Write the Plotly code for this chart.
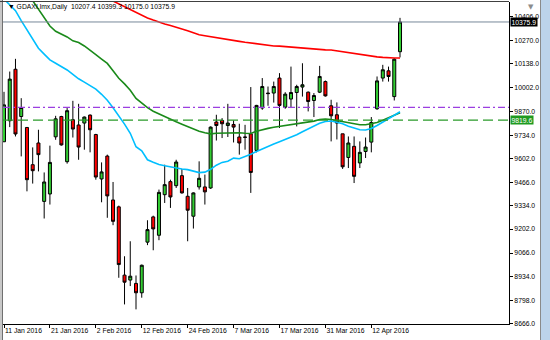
import plotly.graph_objects as go

# ---------------- data ----------------
symbol = "GDAXI.lmx,Daily"
bars = list(range(70))  # trading days 11 Jan 2016 .. 19 Apr 2016

opens = [9697, 9816, 10108, 9840, 9778, 9567, 9690, 9359, 9401, 9725,
         9840, 9584, 9822, 9792, 9803, 9848, 9738, 9486, 9616, 9367,
         9328, 8941, 8913, 8894, 8841, 9128, 9271, 9167, 9397, 9471,
         9448, 9505, 9388, 9275, 9441, 9441, 9435, 9809, 9818, 9789,
         9795, 9724, 9724, 9742, 9648, 9888, 9973, 9973, 10058, 9893,
         9939, 9976, 10007, 9978, 9931, 9978, 10038, 9901, 9850, 9742,
         9608, 9671, 9577, 9642, 9695, 9884, 10058, 10099, 9953, 10207.4]
highs = [9980, 10095, 10167, 9944, 9780, 9665, 9765, 9523, 9675, 9844,
         9844, 9888, 9929, 9912, 9840, 9852, 9742, 9580, 9624, 9469,
         9335, 9048, 9133, 8939, 9001, 9252, 9278, 9426, 9567, 9482,
         9595, 9543, 9435, 9410, 9586, 9511, 9784, 9850, 9831, 9912,
         9818, 9799, 9793, 10007, 9906, 10058, 10010, 10038, 10086, 9978,
         10123, 10020, 10142, 9982, 9973, 10127, 10044, 9935, 9920, 9742,
         9727, 9727, 9699, 9721, 9837, 10067, 10133, 10123, 10171, 10399.3]
lows = [9697, 9780, 9727, 9614, 9416, 9460, 9529, 9262, 9341, 9708,
        9675, 9573, 9721, 9595, 9652, 9637, 9482, 9354, 9266, 9224,
        8926, 8775, 8879, 8747, 8813, 9111, 9082, 9139, 9350, 9322,
        9435, 9403, 9133, 9205, 9426, 9341, 9430, 9704, 9718, 9724,
        9693, 9624, 9652, 9407, 9637, 9878, 9901, 9919, 9775, 9884,
        9888, 9784, 9953, 9869, 9837, 9973, 9953, 9699, 9710, 9543,
        9548, 9463, 9548, 9605, 9637, 9878, 10038, 10038, 9931, 10175.0]
closes = [9906, 10052, 9741, 9891, 9482, 9533, 9624, 9469, 9580, 9827,
          9679, 9873, 9769, 9667, 9837, 9765, 9497, 9526, 9390, 9246,
          9001, 8901, 8935, 8841, 8997, 9199, 9203, 9410, 9454, 9384,
          9582, 9407, 9309, 9407, 9490, 9413, 9780, 9789, 9799, 9803,
          9780, 9690, 9722, 9523, 9903, 10010, 9970, 10010, 9903, 9967,
          9976, 10010, 10020, 9925, 9959, 10067, 9957, 9844, 9803, 9555,
          9690, 9501, 9637, 9667, 9806, 10042, 10105, 10067, 10165, 10375.9]

ma_blue = [10506, 10474, 10440, 10384, 10329, 10275, 10227, 10194, 10161, 10142,
           10123, 10104, 10079, 10054, 10035, 10017, 9995, 9966, 9932, 9890,
           9847, 9797, 9745, 9669, 9646, 9595, 9581, 9568, 9561, 9554,
           9547, 9543, 9539, 9530, 9522, 9525, 9541, 9564, 9580, 9587,
           9604, 9601, 9612, 9626, 9642, 9657, 9671, 9684, 9697, 9709,
           9721, 9737, 9754, 9771, 9787, 9802, 9812, 9815, 9808, 9799,
           9785, 9775, 9765, 9764, 9772, 9789, 9808, 9824, 9847, 9867]
ma_green = [10735, 10687, 10636, 10591, 10540, 10492, 10444, 10396, 10353, 10323,
            10307, 10291, 10269, 10259, 10240, 10218, 10191, 10166, 10141, 10099,
            10057, 10025, 9989, 9943, 9916, 9890, 9870, 9854, 9839, 9824,
            9810, 9796, 9782, 9769, 9756, 9748, 9742, 9745, 9746, 9748,
            9748, 9748, 9745, 9744, 9757, 9767, 9773, 9779, 9784, 9788,
            9792, 9797, 9803, 9809, 9814, 9823, 9826, 9823, 9817, 9811,
            9804, 9796, 9793, 9793, 9799, 9806, 9819, 9834, 9847, 9861]
ma_red = [10800, 10783, 10768, 10752, 10735, 10719, 10703, 10687, 10670, 10654,
          10638, 10622, 10606, 10589, 10573, 10557, 10541, 10524, 10508, 10492,
          10476, 10459, 10443, 10427, 10412, 10399, 10387, 10374, 10365, 10356,
          10347, 10337, 10326, 10315, 10304, 10298, 10292, 10287, 10282, 10276,
          10271, 10266, 10261, 10256, 10252, 10248, 10244, 10240, 10239, 10236,
          10234, 10232, 10229, 10226, 10223, 10219, 10218, 10217, 10212, 10207,
          10201, 10197, 10192, 10185, 10181, 10178, 10175, 10172, 10172, 10172]

date_tick_bars = [0, 8, 16, 24, 32, 40, 48, 56, 64]
date_tick_labels = ["11 Jan 2016", "21 Jan 2016", "2 Feb 2016", "12 Feb 2016",
                    "24 Feb 2016", "7 Mar 2016", "17 Mar 2016", "31 Mar 2016",
                    "12 Apr 2016"]
price_ticks = [10406.0, 10270.0, 10138.0, 10002.0, 9870.0, 9734.0, 9602.0,
               9466.0, 9334.0, 9202.0, 9066.0, 8934.0, 8798.0, 8666.0]
bid_price = 10375.9
purple_level = 9892
green_level = 9819.6

# ---------------- figure ----------------
W, H = 550, 340
ML, MR, MT, MB = 3, 41, 2, 16
PW, PH = W - ML - MR, H - MT - MB
FONT = "Liberation Sans, Arial, sans-serif"


def px_x(p):
    return (p - ML) / PW


def px_y(p):
    return 1 - (p - MT) / PH


fig = go.Figure()
fig.add_trace(go.Candlestick(
    x=bars, open=opens, high=highs, low=lows, close=closes,
    increasing=dict(line=dict(color="#000000", width=1), fillcolor="#32cd32"),
    decreasing=dict(line=dict(color="#000000", width=1), fillcolor="#ff0000"),
    whiskerwidth=0, showlegend=False, hoverinfo="skip"))

for vals, col in [(ma_red, "#ff0000"), (ma_green, "#1a8a1a"), (ma_blue, "#00bfff")]:
    fig.add_trace(go.Scatter(x=bars, y=vals, mode="lines",
                             line=dict(color=col, width=1.6),
                             showlegend=False, hoverinfo="skip"))

shapes = [
    dict(type="line", xref="paper", yref="y", x0=0, x1=1, y0=bid_price, y1=bid_price,
         line=dict(color="#778899", width=1)),
    dict(type="line", xref="paper", yref="y", x0=0, x1=1, y0=purple_level, y1=purple_level,
         line=dict(color="#9b3fe0", width=1.2, dash="7px,3px,2px,3px")),
    dict(type="line", xref="paper", yref="y", x0=0, x1=1, y0=green_level, y1=green_level,
         line=dict(color="#2a9a2a", width=1.2, dash="10px,5px")),
    # frame
    dict(type="rect", xref="paper", yref="paper", x0=px_x(0), x1=px_x(2), y0=px_y(H), y1=px_y(0),
         fillcolor="#c8c8c8", line=dict(width=0)),
    dict(type="line", xref="paper", yref="paper", x0=px_x(2.5), x1=px_x(2.5), y0=px_y(H), y1=px_y(0),
         line=dict(color="#707070", width=1)),
    dict(type="line", xref="paper", yref="paper", x0=px_x(0), x1=px_x(509), y0=px_y(1.5), y1=px_y(1.5),
         line=dict(color="#404040", width=1)),
    dict(type="rect", xref="paper", yref="paper", x0=px_x(541), x1=px_x(550), y0=px_y(H), y1=px_y(0),
         fillcolor="#bcd3ea", line=dict(width=0)),
    dict(type="line", xref="paper", yref="paper", x0=px_x(540.5), x1=px_x(540.5), y0=px_y(H), y1=px_y(0),
         line=dict(color="#8a8a8a", width=1)),
]

annotations = [
    dict(xref="paper", yref="paper", x=px_x(6), y=px_y(7), xanchor="left", yanchor="middle",
         text="▼ " + symbol + "  %.1f %.1f %.1f %.1f" % (opens[-1], highs[-1], lows[-1], closes[-1]),
         showarrow=False, font=dict(family=FONT, size=6.8, color="#000000")),
    dict(xref="paper", yref="y", x=1, y=bid_price, xanchor="left", yanchor="middle", xshift=1,
         yshift=-0.5, text="%.1f" % bid_price, showarrow=False, bgcolor="#000000", borderpad=0.5,
         font=dict(family=FONT, size=6.8, color="#ffffff")),
    dict(xref="paper", yref="y", x=1, y=green_level, xanchor="left", yanchor="middle", xshift=1,
         text="%.1f" % green_level, showarrow=False, bgcolor="#1f9a1f", borderpad=0.5,
         font=dict(family=FONT, size=6.8, color="#ffffff")),
    dict(xref="paper", yref="paper", x=px_x(531), y=px_y(7), xanchor="center", yanchor="middle",
         text="▼", showarrow=False, font=dict(family="DejaVu Sans", size=7, color="#8c8c8c")),
]

spacing = 5.74
x_left = -(4 - ML) / spacing
x_right = 69 + (ML + PW - 400) / spacing
y_top = 10406 + (16.7 - MT) * 5.657
y_bot = 8664

fig.update_layout(
    width=W, height=H, margin=dict(l=ML, r=MR, t=MT, b=MB, autoexpand=False),
    paper_bgcolor="#ffffff", plot_bgcolor="#ffffff",
    boxgap=0.25, showlegend=False,
    shapes=shapes, annotations=annotations,
    font=dict(family=FONT, size=6.8, color="#000000"),
    xaxis=dict(range=[x_left, x_right], rangeslider=dict(visible=False),
               tickmode="array", tickvals=date_tick_bars, ticktext=date_tick_labels,
               tickangle=0, automargin=False,
               ticks="outside", ticklen=3, tickcolor="#000000",
               ticklabelposition="outside right",
               showline=True, linecolor="#000000", linewidth=1,
               showgrid=False, zeroline=False, fixedrange=True,
               tickfont=dict(family=FONT, size=6.8, color="#000000")),
    yaxis=dict(range=[y_bot, y_top], side="right", automargin=False,
               tickmode="array", tickvals=price_ticks,
               ticktext=["%.1f" % v for v in price_ticks],
               ticks="outside", ticklen=3, tickcolor="#000000",
               showline=True, linecolor="#000000", linewidth=1,
               showgrid=False, zeroline=False, fixedrange=True,
               tickfont=dict(family=FONT, size=6.8, color="#000000")),
)

fig.write_html("out.html", config={"displayModeBar": False})
